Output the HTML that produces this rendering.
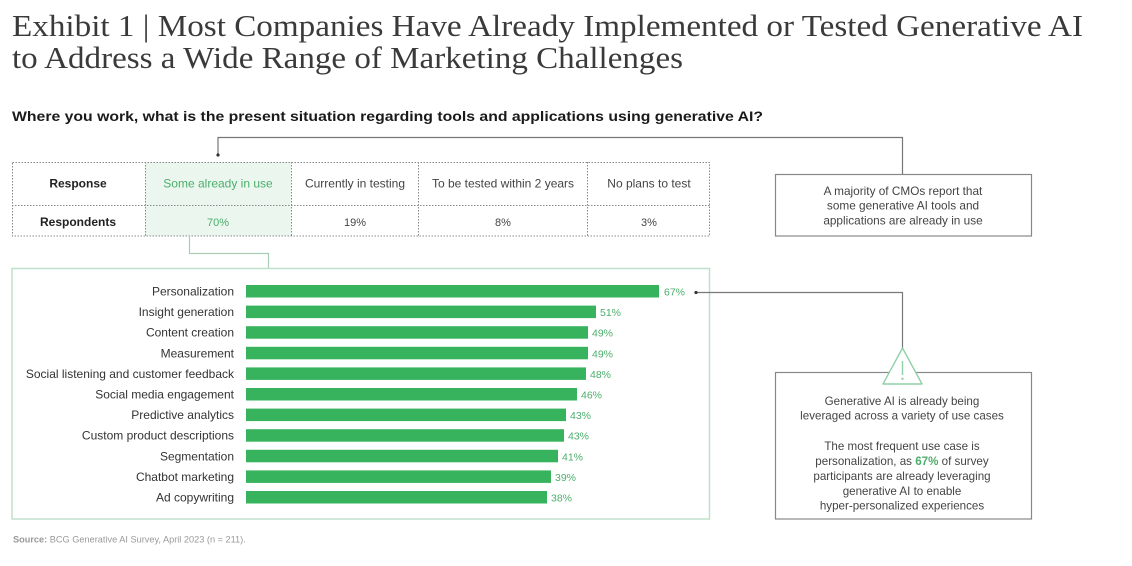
<!DOCTYPE html>
<html><head><meta charset="utf-8"><style>
html,body{margin:0;padding:0;background:#fff;}
svg{display:block;}
.s{font-family:"Liberation Sans",Arial,sans-serif;}
</style></head><body>
<svg width="1132" height="566" viewBox="0 0 1132 566" xmlns="http://www.w3.org/2000/svg">
<rect width="1132" height="566" fill="#fff"/>
<!-- Title -->
<g font-family="'Liberation Serif','Times New Roman',serif" font-size="31" fill="#3a3a3a">
<text x="12" y="36" textLength="1071" lengthAdjust="spacingAndGlyphs">Exhibit 1 | Most Companies Have Already Implemented or Tested Generative AI</text>
<text x="12" y="68" textLength="671" lengthAdjust="spacingAndGlyphs">to Address a Wide Range of Marketing Challenges</text>
</g>
<text class="s" x="12" y="121" font-size="13.5" font-weight="bold" fill="#1a1a1a" textLength="751" lengthAdjust="spacingAndGlyphs">Where you work, what is the present situation regarding tools and applications using generative AI?</text>

<!-- Table -->
<rect x="145" y="162" width="146" height="74" fill="#eaf6ee"/>
<g stroke="#8a8a8a" stroke-width="1" stroke-dasharray="1.5,1.5" fill="none">
<rect x="12.5" y="162.5" width="697" height="73.5"/>
<line x1="12" y1="205.5" x2="710" y2="205.5"/>
<line x1="145.5" y1="162" x2="145.5" y2="236"/>
<line x1="291.5" y1="162" x2="291.5" y2="236"/>
<line x1="418.5" y1="162" x2="418.5" y2="236"/>
<line x1="587.5" y1="162" x2="587.5" y2="236"/>
</g>
<g class="s" font-size="12" text-anchor="middle">
<text x="78" y="187.5" font-weight="bold" fill="#222">Response</text>
<text x="78" y="226" font-weight="bold" fill="#222">Respondents</text>
<text x="218" y="187.5" fill="#4cae6c">Some already in use</text>
<text x="218" y="226" fill="#4cae6c" font-size="11">70%</text>
<text x="355" y="187.5" fill="#444">Currently in testing</text>
<text x="355" y="226" fill="#444" font-size="11">19%</text>
<text x="503" y="187.5" fill="#444">To be tested within 2 years</text>
<text x="503" y="226" fill="#444" font-size="11">8%</text>
<text x="649" y="187.5" fill="#444">No plans to test</text>
<text x="649" y="226" fill="#444" font-size="11">3%</text>
</g>

<!-- Connector top -->
<polyline points="218,155 218,137.5 902.5,137.5 902.5,174" fill="none" stroke="#777" stroke-width="1.2"/>
<circle cx="218" cy="155" r="1.6" fill="#333"/>

<!-- Box 1 -->
<rect x="775.5" y="174.5" width="256" height="61.5" fill="#fff" stroke="#888" stroke-width="1.2"/>
<g class="s" font-size="11.8" fill="#444" text-anchor="middle">
<text x="903" y="195">A majority of CMOs report that</text>
<text x="903" y="209.5">some generative AI tools and</text>
<text x="903" y="224.5">applications are already in use</text>
</g>

<!-- Table to bars connector -->
<polyline points="189.5,236 189.5,253.5 268.5,253.5 268.5,269" fill="none" stroke="#a8cdb4" stroke-width="1.2"/>

<!-- Bar box -->
<rect x="12" y="268.5" width="697.5" height="250.5" fill="#fff" stroke="#bfe0ca" stroke-width="1.5"/>

<!-- Bars -->
<g fill="#37b35e">
<rect x="246" y="285" width="413" height="12.5"/>
<rect x="246" y="305.6" width="350" height="12.5"/>
<rect x="246" y="326.2" width="342" height="12.5"/>
<rect x="246" y="346.8" width="342" height="12.5"/>
<rect x="246" y="367.4" width="340" height="12.5"/>
<rect x="246" y="388" width="331" height="12.5"/>
<rect x="246" y="408.6" width="320" height="12.5"/>
<rect x="246" y="429.2" width="318" height="12.5"/>
<rect x="246" y="449.8" width="312" height="12.5"/>
<rect x="246" y="470.4" width="305" height="12.5"/>
<rect x="246" y="491" width="301" height="12.5"/>
</g>
<g class="s" font-size="12" fill="#333" text-anchor="end">
<text x="234" y="295.5">Personalization</text>
<text x="234" y="316.1">Insight generation</text>
<text x="234" y="336.7">Content creation</text>
<text x="234" y="357.3">Measurement</text>
<text x="234" y="377.9">Social listening and customer feedback</text>
<text x="234" y="398.5">Social media engagement</text>
<text x="234" y="419.1">Predictive analytics</text>
<text x="234" y="439.7">Custom product descriptions</text>
<text x="234" y="460.3">Segmentation</text>
<text x="234" y="480.9">Chatbot marketing</text>
<text x="234" y="501.5">Ad copywriting</text>
</g>
<g class="s" font-size="10.5" fill="#4cae6c">
<text x="664" y="295.5">67%</text>
<text x="600" y="316.1">51%</text>
<text x="592" y="336.7">49%</text>
<text x="592" y="357.3">49%</text>
<text x="590" y="377.9">48%</text>
<text x="581" y="398.5">46%</text>
<text x="570" y="419.1">43%</text>
<text x="568" y="439.7">43%</text>
<text x="562" y="460.3">41%</text>
<text x="555" y="480.9">39%</text>
<text x="551" y="501.5">38%</text>
</g>

<!-- Personalization connector -->
<polyline points="696,292.5 902.5,292.5 902.5,350" fill="none" stroke="#777" stroke-width="1.2"/>
<circle cx="696" cy="292.5" r="1.6" fill="#333"/>

<!-- Box 2 -->
<rect x="775.5" y="372.5" width="256" height="146.5" fill="#fff" stroke="#888" stroke-width="1.2"/>
<polygon points="902.5,348 883,384 922,384" fill="#fff" stroke="#8fd0a6" stroke-width="1.4" stroke-linejoin="round"/>
<line x1="902.5" y1="361" x2="902.5" y2="375" stroke="#8fd0a6" stroke-width="1.4"/>
<circle cx="902.5" cy="378.8" r="1.2" fill="#8fd0a6"/>
<g class="s" font-size="11.6" fill="#444" text-anchor="middle">
<text x="902" y="405">Generative AI is already being</text>
<text x="902" y="419.5">leveraged across a variety of use cases</text>
<text x="902" y="450">The most frequent use case is</text>
<text x="902" y="465">personalization, as <tspan fill="#4cae6c" font-weight="bold">67%</tspan> of survey</text>
<text x="902" y="480">participants are already leveraging</text>
<text x="902" y="495">generative AI to enable</text>
<text x="902" y="509.5">hyper-personalized experiences</text>
</g>

<!-- Source -->
<text class="s" x="13" y="542.5" font-size="9.2" fill="#999"><tspan font-weight="bold">Source:</tspan> BCG Generative AI Survey, April 2023 (n = 211).</text>
</svg>
</body></html>
